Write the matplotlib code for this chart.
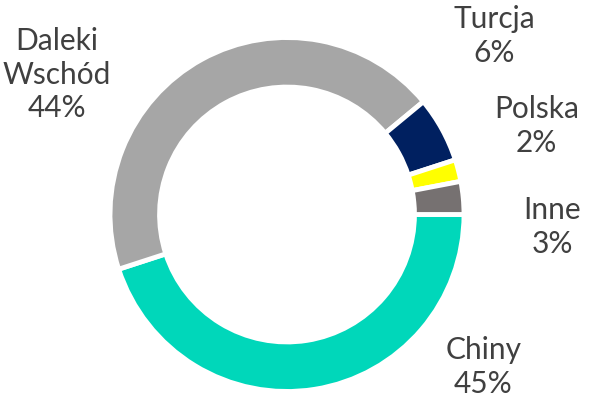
import matplotlib
matplotlib.use("Agg")
from matplotlib import pyplot as plt

labels = ["Chiny", "Daleki\nWschód", "Turcja", "Polska", "Inne"]
shares = [45, 44, 6, 2, 3]
colors = ["#00D7BA", "#A6A6A6", "#002060", "#FFFF00", "#767171"]
# label anchor points in pie units (radius 1 = outer edge)
label_xy = [(1.11, -0.86), (-1.30, 0.79), (1.17, 1.01), (1.41, 0.50), (1.50, -0.07)]

plt.rcParams['font.family'] = ['Lato', 'DejaVu Sans']

fig = plt.figure(figsize=(5.9, 4.0), dpi=100)
ax = fig.add_axes([0, 0, 1, 1])
R = 177.0
cx, cy = 287.0, 214.5

ax.pie(shares, colors=colors, startangle=0, counterclock=False, radius=1.0,
       wedgeprops=dict(width=0.28, edgecolor='white', linewidth=3.5))

ax.set_xlim(-cx / R, (590 - cx) / R)
ax.set_ylim(-(400 - cy) / R, cy / R)
ax.set_aspect('equal')
ax.axis('off')

for lab, val, (x, y) in zip(labels, shares, label_xy):
    ax.text(x, y, f"{lab}\n{val}%", ha='center', va='center', fontsize=21.5,
            color='#404040', linespacing=1.25)

fig.savefig("out.png", dpi=100)
